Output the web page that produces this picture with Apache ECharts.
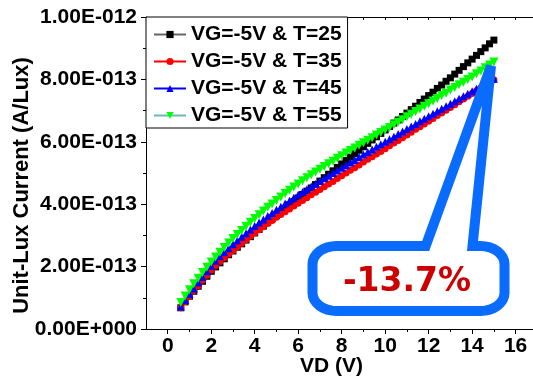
<!DOCTYPE html>
<html>
<head>
<meta charset="utf-8">
<script src="https://cdn.jsdelivr.net/npm/echarts@6/dist/echarts.min.js"></script>
<style>
  html, body { margin: 0; padding: 0; background: #fff; }
  #chart { width: 533px; height: 392px; }
</style>
</head>
<body>
<div id="chart"></div>
<script>
// Drain voltage sweep (V)
const vd = [0.6,0.8,1.0,1.2,1.4,1.6,1.8,2.0,2.2,2.4,2.6,2.8,3.0,3.2,3.4,3.6,3.8,4.0,4.2,4.4,
  4.6,4.8,5.0,5.2,5.4,5.6,5.8,6.0,6.2,6.4,6.6,6.8,7.0,7.2,7.4,7.6,7.8,8.0,8.2,8.4,
  8.6,8.8,9.0,9.2,9.4,9.6,9.8,10.0,10.2,10.4,10.6,10.8,11.0,11.2,11.4,11.6,11.8,12.0,12.2,12.4,
  12.6,12.8,13.0,13.2,13.4,13.6,13.8,14.0,14.2,14.4,14.6,14.8,15.0];

// Unit-lux current in units of 1E-13 A/Lux, VG = -5 V
const iT25 = [0.68,0.87,1.05,1.21,1.37,1.53,1.69,1.85,1.99,2.12,
  2.25,2.38,2.50,2.62,2.73,2.85,2.96,3.08,3.19,3.30,
  3.42,3.53,3.64,3.75,3.86,3.98,4.09,4.20,4.31,4.42,
  4.52,4.63,4.74,4.85,4.96,5.07,5.18,5.29,5.40,5.51,
  5.62,5.73,5.84,5.95,6.06,6.16,6.27,6.38,6.49,6.60,
  6.70,6.81,6.92,7.03,7.14,7.26,7.37,7.48,7.59,7.71,
  7.82,7.94,8.05,8.17,8.29,8.41,8.53,8.65,8.77,8.89,
  9.01,9.14,9.26];
const iT35 = [0.68,0.88,1.06,1.23,1.39,1.56,1.72,1.89,2.03,2.16,
  2.28,2.40,2.52,2.64,2.75,2.86,2.97,3.08,3.18,3.28,
  3.38,3.48,3.58,3.67,3.76,3.85,3.94,4.03,4.12,4.21,
  4.30,4.38,4.47,4.56,4.65,4.73,4.82,4.91,5.00,5.09,
  5.17,5.26,5.35,5.44,5.52,5.61,5.69,5.78,5.87,5.96,
  6.04,6.13,6.22,6.31,6.40,6.48,6.57,6.66,6.75,6.84,
  6.92,7.01,7.10,7.19,7.28,7.37,7.46,7.55,7.64,7.73,
  7.81,7.90,7.99];
const iT45 = [0.72,0.93,1.12,1.30,1.49,1.67,1.85,2.03,2.19,2.33,
  2.46,2.59,2.72,2.84,2.96,3.07,3.19,3.30,3.41,3.51,
  3.62,3.72,3.82,3.92,4.02,4.11,4.21,4.30,4.39,4.48,
  4.57,4.65,4.74,4.83,4.91,5.00,5.08,5.17,5.25,5.34,
  5.42,5.51,5.59,5.67,5.75,5.84,5.92,6.00,6.08,6.16,
  6.25,6.33,6.41,6.49,6.57,6.66,6.74,6.82,6.90,6.98,
  7.06,7.14,7.22,7.30,7.38,7.46,7.54,7.62,7.70,7.78,
  7.86,7.94,8.02];
const iT55 = [0.85,1.06,1.26,1.45,1.63,1.81,1.98,2.15,2.31,2.46,
  2.61,2.76,2.90,3.03,3.16,3.29,3.42,3.54,3.66,3.78,
  3.90,4.01,4.12,4.23,4.34,4.45,4.55,4.65,4.75,4.85,
  4.94,5.03,5.12,5.21,5.30,5.38,5.47,5.55,5.64,5.72,
  5.80,5.89,5.97,6.05,6.13,6.22,6.30,6.38,6.46,6.55,
  6.63,6.71,6.80,6.88,6.97,7.05,7.14,7.22,7.31,7.39,
  7.48,7.56,7.66,7.74,7.83,7.91,8.00,8.08,8.18,8.27,
  8.37,8.46,8.56];

const seriesNames = ['VG=-5V & T=25', 'VG=-5V & T=35', 'VG=-5V & T=45', 'VG=-5V & T=55'];

// Axis ticks
const xMajorTicks = [0, 2, 4, 6, 8, 10, 12, 14, 16];
const xMinorTicks = [1, 3, 5, 7, 9, 11, 13, 15];
const xTopTicks = [0, 1, 2, 3, 4, 5, 6, 7, 8, 9, 10, 11, 12, 13, 14, 15, 16];
const yUnit = 1e-13;

const FONT = '"Liberation Sans", Arial, sans-serif';

function sciLabel(v) {
  const s = (v * yUnit).toExponential(2);
  const parts = s.split('e');
  const sign = parts[1][0] === '-' ? '-' : '+';
  const digits = parts[1].replace(/[+-]/, '').padStart(3, '0');
  return parts[0] + 'E' + sign + digits;
}

const pairs = arr => vd.map((x, i) => [x, arr[i]]);

// Relative drop of the 35 °C curve against 25 °C at the last bias point
const last = vd.length - 1;
const dropPct = ((iT35[last] - iT25[last]) / iT25[last] * 100).toFixed(1) + '%';

// Outline of the speech-bubble callout: rounded box with a spike on its top edge
function calloutOutline(L, T, R, B, rx, ry, spikeL, tip, spikeR) {
  const pts = [];
  const arc = (cx, cy, a0, a1) => {
    const n = 8;
    for (let i = 0; i <= n; i++) {
      const a = a0 + (a1 - a0) * i / n;
      pts.push([cx + rx * Math.cos(a), cy + ry * Math.sin(a)]);
    }
  };
  arc(L + rx, T + ry, Math.PI, 1.5 * Math.PI);
  pts.push([spikeL, T], tip, [spikeR, T]);
  arc(R - rx, T + ry, 1.5 * Math.PI, 2 * Math.PI);
  arc(R - rx, B - ry, 0, 0.5 * Math.PI);
  arc(L + rx, B - ry, 0.5 * Math.PI, Math.PI);
  return pts;
}

const chart = echarts.init(document.getElementById('chart'), null, { renderer: 'canvas' });

const baseX = { type: 'value', min: -1, max: 16.8, gridIndex: 0, splitLine: { show: false } };

chart.setOption({
  animation: false,
  backgroundColor: '#fff',
  grid: { left: 146, right: 0, top: 17, bottom: 63, outerBoundsMode: 'none' },
  xAxis: [
    Object.assign({}, baseX, {
      position: 'bottom',
      name: 'VD (V)',
      nameLocation: 'middle',
      nameGap: 27,
      nameMoveOverlap: false,
      nameTextStyle: { fontFamily: FONT, fontWeight: 'bold', fontSize: 21, color: '#000', padding: [0, 16, 0, 0] },
      axisLine: { show: true, onZero: false, lineStyle: { color: '#000', width: 1 } },
      axisTick: { show: true, customValues: xMajorTicks, length: 5, lineStyle: { color: '#000' } },
      axisLabel: { customValues: xMajorTicks, margin: 7, fontFamily: FONT, fontWeight: 'bold', fontSize: 21, color: '#000' }
    }),
    Object.assign({}, baseX, {
      position: 'bottom',
      axisLine: { show: false },
      axisTick: { show: true, customValues: xMinorTicks, length: 3, lineStyle: { color: '#000' } },
      axisLabel: { show: false }
    }),
    Object.assign({}, baseX, {
      position: 'top',
      axisLine: { show: true, onZero: false, lineStyle: { color: '#000', width: 1 } },
      axisTick: { show: true, inside: true, customValues: xTopTicks, length: 3, lineStyle: { color: '#000' } },
      axisLabel: { show: false }
    })
  ],
  yAxis: {
    type: 'value',
    min: 0,
    max: 10,
    interval: 2,
    name: 'Unit-Lux Current (A/Lux)',
    nameLocation: 'middle',
    nameGap: 113,
    nameMoveOverlap: false,
    nameTextStyle: { fontFamily: FONT, fontWeight: 'bold', fontSize: 22, color: '#000', padding: [0, 25, 0, 0] },
    axisLine: { show: true, onZero: false, lineStyle: { color: '#000', width: 1 } },
    axisTick: { show: true, length: 5, lineStyle: { color: '#000' } },
    minorTick: { show: true, splitNumber: 2, length: 3, lineStyle: { color: '#000' } },
    splitLine: { show: false },
    axisLabel: { margin: 9, formatter: sciLabel, fontFamily: FONT, fontWeight: 'bold', fontSize: 21, color: '#000' }
  },
  legend: {
    left: 146,
    top: 17,
    orient: 'vertical',
    align: 'left',
    itemWidth: 32,
    itemHeight: 9,
    itemGap: 6,
    padding: [7, 6, 2, 7],
    borderColor: '#000',
    borderWidth: 1,
    backgroundColor: '#fff',
    textStyle: { fontFamily: FONT, fontWeight: 'bold', fontSize: 21, color: '#000', lineHeight: 21 },
    data: seriesNames
  },
  series: [
    {
      name: seriesNames[0], type: 'line', data: pairs(iT25),
      symbol: 'rect', symbolSize: 7,
      itemStyle: { color: '#000' }, lineStyle: { color: '#666', width: 1 }
    },
    {
      name: seriesNames[1], type: 'line', data: pairs(iT35),
      symbol: 'circle', symbolSize: 7,
      itemStyle: { color: '#ff0000' }, lineStyle: { color: '#ff0000', width: 1 }
    },
    {
      name: seriesNames[2], type: 'line', data: pairs(iT45),
      symbol: 'triangle', symbolSize: 8,
      itemStyle: { color: '#0000ff' }, lineStyle: { color: '#0000ff', width: 1 }
    },
    {
      name: seriesNames[3], type: 'line', data: pairs(iT55),
      symbol: 'triangle', symbolRotate: 180, symbolSize: 9,
      itemStyle: { color: '#00ff00' }, lineStyle: { color: '#66bbbb', width: 1 }
    }
  ],
  graphic: [
    {
      type: 'polygon',
      z: 100,
      shape: { points: calloutOutline(312.5, 246, 504.5, 311, 24, 18, 425.7, [491, 66], 472.5) },
      style: { fill: '#fff', stroke: '#0a6cff', lineWidth: 10, lineJoin: 'miter', miterLimit: 4 }
    },
    {
      type: 'text',
      z: 101,
      x: 407,
      y: 282,
      style: {
        text: dropPct,
        font: 'bold 33px "DejaVu Sans", Verdana, sans-serif',
        fill: '#cc0000',
        align: 'center',
        verticalAlign: 'middle'
      }
    }
  ]
});
</script>
</body>
</html>
